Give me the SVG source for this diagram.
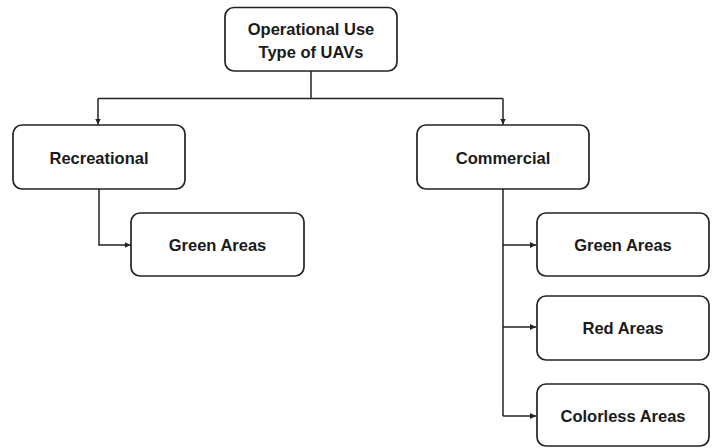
<svg xmlns="http://www.w3.org/2000/svg" width="716" height="448" viewBox="0 0 716 448">
<style>
.box{fill:#fff;stroke:#222;stroke-width:1.7}
.lbl{font-family:"Liberation Sans",Arial,sans-serif;font-weight:bold;font-size:16.5px;fill:#1a1a1a;text-anchor:middle;dominant-baseline:central}
.con{fill:none;stroke:#222;stroke-width:1.5}
</style>
<defs>
<marker id="ah" viewBox="0 0 10 10" refX="10" refY="5" markerWidth="6" markerHeight="6" markerUnits="userSpaceOnUse" orient="auto">
<path d="M0,0 L10,5 L0,10 z" fill="#222"/>
</marker>
</defs>
<rect width="716" height="448" fill="#fff"/>
<g id="connectors">
<path class="con" d="M311,71 V98.5"/>
<path class="con" d="M98,98.5 H503"/>
<path class="con" d="M98,98.5 V124.5" marker-end="url(#ah)"/>
<path class="con" d="M503,98.5 V124.5" marker-end="url(#ah)"/>
<path class="con" d="M99,189 V245 H130.5" marker-end="url(#ah)"/>
<path class="con" d="M503,189 V416"/>
<path class="con" d="M503,245 H536" marker-end="url(#ah)"/>
<path class="con" d="M503,327 H536" marker-end="url(#ah)"/>
<path class="con" d="M503,416 H536" marker-end="url(#ah)"/>
</g>
<g id="root">
<rect class="box" x="225" y="7.5" width="172" height="63.5" rx="9"/>
<text class="lbl" x="311" y="29">Operational Use</text>
<text class="lbl" x="311" y="52">Type of UAVs</text>
</g>
<g id="recreational">
<rect class="box" x="13" y="125" width="172" height="64" rx="9"/>
<text class="lbl" x="99" y="157.5">Recreational</text>
</g>
<g id="commercial">
<rect class="box" x="417" y="125" width="172" height="64" rx="9"/>
<text class="lbl" x="503" y="157.5">Commercial</text>
</g>
<g id="rec-green">
<rect class="box" x="131" y="213" width="173" height="63" rx="9"/>
<text class="lbl" x="217.5" y="245">Green Areas</text>
</g>
<g id="com-green">
<rect class="box" x="537" y="213" width="172" height="63" rx="9"/>
<text class="lbl" x="623" y="245">Green Areas</text>
</g>
<g id="com-red">
<rect class="box" x="537" y="296" width="172" height="64" rx="9"/>
<text class="lbl" x="623" y="328">Red Areas</text>
</g>
<g id="com-colorless">
<rect class="box" x="537" y="384" width="172" height="62" rx="9"/>
<text class="lbl" x="623" y="416">Colorless Areas</text>
</g>
</svg>
